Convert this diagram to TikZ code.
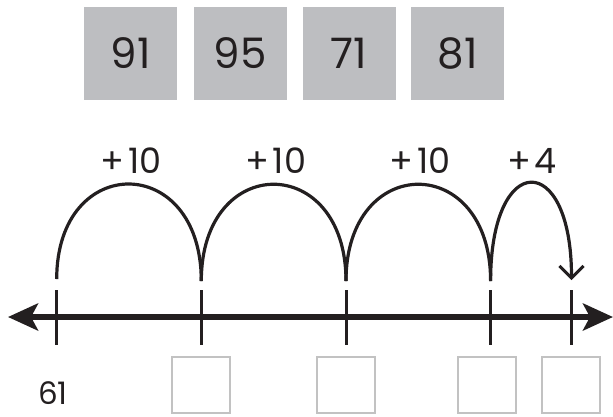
\documentclass[tikz,border=0pt]{standalone}
\usepackage{fontspec}
\setmainfont{Poppins}
\usetikzlibrary{arrows.meta}
\definecolor{tilegray}{HTML}{BDBEC1}
\definecolor{boxgray}{HTML}{C2C2C2}
\definecolor{ink}{HTML}{231F20}
\tikzset{
  tile/.style={fill=tilegray, draw=none, minimum width=93pt, minimum height=93pt, inner sep=0pt, text=ink, font=\fontsize{42}{42}\selectfont},
  answerbox/.style={draw=boxgray, line width=2pt, fill=white, minimum width=58pt, minimum height=56pt, inner sep=0pt},
  jumplabel/.style={text=ink, font=\fontsize{35}{35}\selectfont, inner sep=0pt},
  jump/.style={draw=ink, line width=3.2pt},
  tickmark/.style={draw=ink, line width=3pt},
  numline/.style={draw=ink, line width=5.5pt, {Stealth[length=30pt,width=27pt,inset=7pt]}-{Stealth[length=30pt,width=27pt,inset=7pt]}}
}
\begin{document}
\begin{tikzpicture}[x=1pt,y=-1pt]
\useasboundingbox (0,0) rectangle (613,416);
% tiles
\node[tile] (t1) at (130.5,53.5) {91};
\node[tile] (t2) at (240,53.5) {95};
\node[tile] (t3) at (349,53.5) {71};
\node[tile] (t4) at (457.5,53.5) {81};
% number line
\coordinate (L) at (8,317);
\coordinate (R) at (613,317);
\draw[numline] (L) -- (R);
% ticks
\foreach \n/\x in {a/56.7,b/201.3,c/346,d/490.6,e/571.5}{
  \coordinate (\n top) at (\x,290);
  \coordinate (\n bot) at (\x,345);
  \draw[tickmark] (\n top) -- (\n bot);
}
% jump ends
\coordinate (ja) at (56.7,279);
\coordinate (jb) at (201.3,281);
\coordinate (jc) at (346,281);
\coordinate (jd) at (490.6,281);
\coordinate (je) at (571.5,280);
\draw[jump] (ja) .. controls (56.7,152) and (201.3,152) .. (jb);
\draw[jump] (jb) .. controls (201.3,152) and (346,152) .. (jc);
\draw[jump] (jc) .. controls (346,152) and (490.6,152) .. (jd);
\draw[jump, -{Straight Barb[length=12pt,width=24pt,line width=3pt]}] (jd) .. controls (490.6,150) and (571.5,150) .. (je);
% labels
\node[jumplabel] (l1) at (131,161) {+\kern4pt10};
\node[jumplabel] (l2) at (275.6,161) {+\kern4pt10};
\node[jumplabel] (l3) at (420,161) {+\kern4pt10};
\node[jumplabel] (l4) at (532,161) {+\kern4pt4};
% answers
\node[text=ink, font=\fontsize{31}{31}\selectfont, inner sep=0pt] (s) at (53,393) {61};
\node[answerbox] (b1) at (201.3,385) {};
\node[answerbox] (b2) at (346,385) {};
\node[answerbox] (b3) at (487,385) {};
\node[answerbox] (b4) at (571.3,385) {};
\end{tikzpicture}
\end{document}
